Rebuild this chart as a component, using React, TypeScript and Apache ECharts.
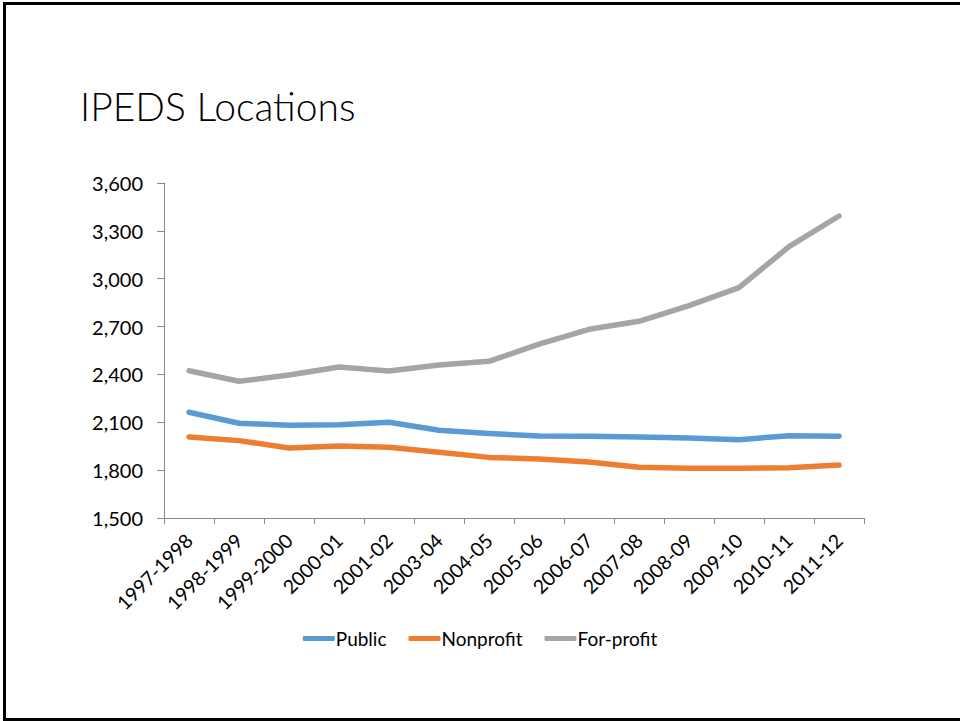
import React, { useEffect, useRef } from "react";
import * as echarts from "echarts";

const TITLE = "IPEDS Locations";
const CATEGORIES = [
  "1997-1998", "1998-1999", "1999-2000", "2000-01", "2001-02", "2003-04", "2004-05",
  "2005-06", "2006-07", "2007-08", "2008-09", "2009-10", "2010-11", "2011-12",
];
const PUBLIC = [2163, 2094, 2081, 2085, 2100, 2050, 2029, 2014, 2012, 2008, 2002, 1991, 2016, 2012];
const NONPROFIT = [2008, 1985, 1939, 1951, 1943, 1912, 1880, 1870, 1851, 1818, 1812, 1812, 1815, 1832];
const FORPROFIT = [2423, 2357, 2396, 2447, 2422, 2459, 2482, 2590, 2683, 2733, 2831, 2944, 3201, 3393];
const SERIES_NAMES = ["Public", "Nonprofit", "For-profit"];
const COLORS = ["#5B9BD5", "#ED7D31", "#A5A5A5"];
const Y_MIN = 1500;
const Y_MAX = 3600;
const Y_STEP = 300;

const FONT = "Lato, 'Open Sans', sans-serif";

export default function App() {
  const ref = useRef<HTMLDivElement>(null);
  useEffect(() => {
    if (!ref.current) return;
    const chart = echarts.init(ref.current, null, { renderer: "svg" });
    const data = [PUBLIC, NONPROFIT, FORPROFIT];
    chart.setOption({
      animation: false,
      backgroundColor: "#ffffff",
      textStyle: { fontFamily: FONT },
      graphic: [
        { type: "line", shape: { x1: 3, y1: 3.5, x2: 960, y2: 3.5 }, style: { stroke: "#000", lineWidth: 3 } },
        { type: "line", shape: { x1: 4.5, y1: 2, x2: 4.5, y2: 721 }, style: { stroke: "#000", lineWidth: 3 } },
        { type: "line", shape: { x1: 3, y1: 719.5, x2: 960, y2: 719.5 }, style: { stroke: "#000", lineWidth: 3 } },
        {
          type: "text",
          left: 80,
          top: 86,
          style: { text: TITLE, font: `300 39px ${FONT}`, fill: "#000" },
        },
      ],
      grid: { left: 164, right: 96, top: 183, bottom: 203, containLabel: false },
      legend: {
        data: SERIES_NAMES,
        bottom: 68,
        left: "center",
        itemWidth: 32,
        itemHeight: 5,
        itemGap: 22,
        icon: "roundRect",
        textStyle: { fontFamily: FONT, fontSize: 19, color: "#000", padding: [0, 0, 0, -4] },
      },
      xAxis: {
        type: "category",
        data: CATEGORIES,
        boundaryGap: true,
        axisLine: { lineStyle: { color: "#898989", width: 1 } },
        axisTick: { show: true, length: 6, interval: 0, lineStyle: { color: "#898989" } },
        axisLabel: { interval: 0, rotate: 45, fontSize: 19.5, color: "#000", fontFamily: FONT, margin: 19 },
        splitLine: { show: false },
      },
      yAxis: {
        type: "value",
        min: Y_MIN,
        max: Y_MAX,
        interval: Y_STEP,
        axisLine: { show: true, lineStyle: { color: "#898989", width: 1 } },
        axisTick: { show: true, length: 7, lineStyle: { color: "#898989" } },
        axisLabel: {
          fontSize: 20,
          color: "#000",
          fontFamily: FONT,
          margin: 21,
          formatter: (v: number) => v.toLocaleString("en-US"),
        },
        splitLine: { show: false },
      },
      series: SERIES_NAMES.map((name, i) => ({
        name,
        type: "line",
        data: data[i],
        showSymbol: false,
        symbol: "none",
        color: COLORS[i],
        lineStyle: { width: 5.5, color: COLORS[i], cap: "round", join: "round" },
        itemStyle: { color: COLORS[i] },
      })),
    });
    return () => chart.dispose();
  }, []);
  return (
    <div
      ref={ref}
      style={{ position: "fixed", left: 0, top: 0, width: 960, height: 721, background: "#fff" }}
    />
  );
}
